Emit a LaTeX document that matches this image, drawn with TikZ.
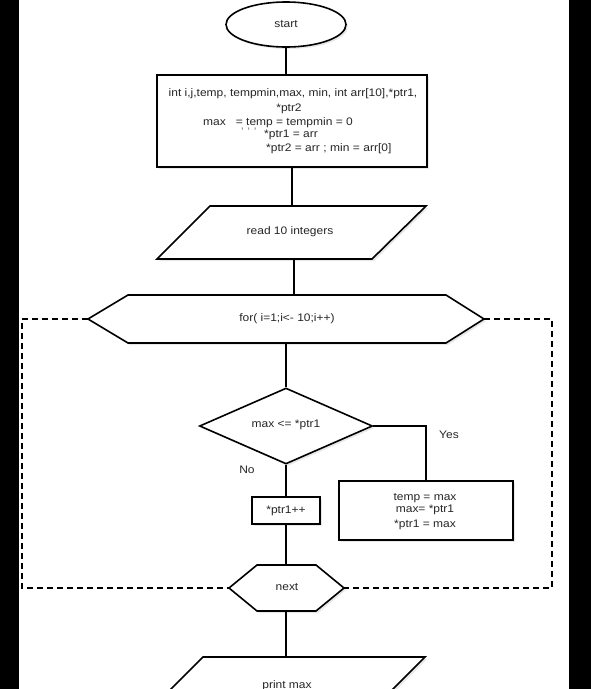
\documentclass[tikz,border=0pt]{standalone}
\usepackage{fontspec}
\setmainfont{Liberation Sans}[FakeStretch=1.1]
\usetikzlibrary{shapes.geometric,shadows}
\definecolor{txtgray}{HTML}{262626}
\begin{document}
\begin{tikzpicture}[x=1pt,y=-1pt,
  shp/.style={draw=black, fill=white, line width=1.6pt, line join=miter,
    drop shadow={shadow xshift=2pt,shadow yshift=-2pt,opacity=0.18}},
  txt/.style={font=\fontsize{10.9}{13.5}\selectfont, text=txtgray, inner sep=0pt},
  conn/.style={draw=black, line width=1.6pt},
  loopline/.style={draw=black, line width=1.7pt, dash pattern=on 6pt off 4pt}]
\useasboundingbox (0,0) rectangle (591,689);
\fill[white] (0,0) rectangle (591,689);
\fill[black] (0,0) rectangle (19,689);
\fill[black] (569,0) rectangle (591,689);
\begin{scope}
\clip (19,0) rectangle (569,689);

% dashed loop
\coordinate (forW) at (88,319);
\coordinate (forE) at (484,319);
\coordinate (nextW) at (229,588);
\coordinate (nextE) at (344,588);
\draw[loopline] (forW) -- (22,319) |- (nextW);
\draw[loopline] (forE) -- (552,319) |- (nextE);

% start
\node[shp, ellipse, minimum width=120pt, minimum height=45pt, inner sep=0pt,
  font=\fontsize{10.9}{13.5}\selectfont, text=txtgray] (start) at (286,24.5) {start};

% init box
\node[shp, rectangle, minimum width=270pt, minimum height=92pt, inner sep=0pt] (init) at (292,121) {};
\node[txt, anchor=base] (l1) at (293,96) {int i,j,temp, tempmin,max, min, int arr[10],*ptr1,};
\node[txt, anchor=base] (l2) at (289,111) {*ptr2};
\node[txt, anchor=base west] (l3) at (203,125) {max\hspace{10pt}= temp = tempmin = 0};
\node[txt, anchor=base west, text=gray] (l4a) at (241,135) {'\,\,'\,\,'};
\node[txt, anchor=base west] (l4) at (264,137) {*ptr1 = arr};
\node[txt, anchor=base west] (l5) at (266,151) {*ptr2 = arr\,\,; min =\,\,arr[0]};

% read parallelogram
\coordinate (readN) at (292,206);
\coordinate (readS) at (294,259);
\path[shp] (210,206) -- (426,206) -- (372,259) -- (157,259) -- cycle;
\node[txt] (read) at (290,232) {read 10 integers};

% for hexagon
\coordinate (forN) at (294,295);
\coordinate (forS) at (286,343);
\path[shp] (forW) -- (128,295) -- (446,295) -- (forE) -- (446,343) -- (128,343) -- cycle;
\node[txt] (for) at (287,319) {for( i=1;i<- 10;i++)};

% decision
\node[shp, diamond, minimum width=173pt, minimum height=76pt, inner sep=0pt] (cond) at (286,426) {};
\node[txt] (condtxt) at (286,425) {max <= *ptr1};
\node[txt] (yes) at (449,435) {Yes};
\node[txt] (no) at (247,470) {No};

% swap box
\node[shp, rectangle, minimum width=174pt, minimum height=59pt, inner sep=0pt] (swap) at (426,510.5) {};
\node[txt, anchor=base] (s1) at (425,500) {temp = max};
\node[txt, anchor=base] (s2) at (425,512) {max= *ptr1};
\node[txt, anchor=base] (s3) at (425,527) {*ptr1 = max};

% increment box
\node[shp, rectangle, minimum width=68pt, minimum height=27pt, inner sep=0pt,
  font=\fontsize{10.9}{13.5}\selectfont, text=txtgray] (inc) at (286,510.5) {*ptr1++};

% next hexagon
\coordinate (nextN) at (286,565);
\coordinate (nextS) at (286,611);
\path[shp] (nextW) -- (257,565) -- (316,565) -- (nextE) -- (316,611) -- (257,611) -- cycle;
\node[txt] (next) at (287,587) {next};

% print parallelogram
\coordinate (printN) at (286,657);
\path[shp] (203,657) -- (425,657) -- (372,710) -- (150,710) -- cycle;
\node[txt, anchor=base] (print) at (287,688) {print max};

% connectors
\draw[conn] (start.south) -- (start.south |- init.north);
\draw[conn] (init.south) -- (readN);
\draw[conn] (readS) -- (forN);
\draw[conn] (forS) -- (cond.north);
\draw[conn] (cond.east) -| (swap.north);
\draw[conn] (cond.south) -- (inc.north);
\draw[conn] (inc.south) -- (nextN);
\draw[conn] (nextS) -- (printN);
\end{scope}
\end{tikzpicture}
\end{document}
